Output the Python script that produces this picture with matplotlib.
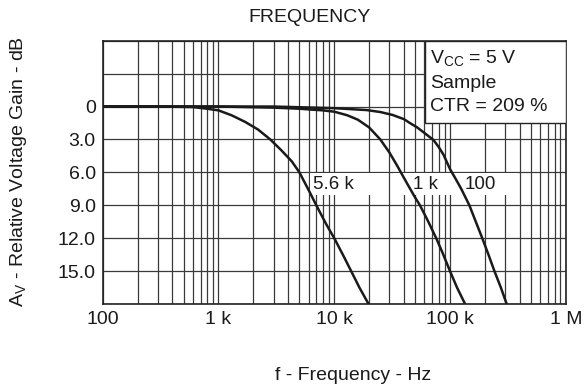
import matplotlib
matplotlib.use("Agg")
import matplotlib.pyplot as plt
from matplotlib.patches import Rectangle
from matplotlib.ticker import FixedLocator, NullFormatter, LogLocator

plt.rcParams['font.family'] = ['Liberation Sans', 'DejaVu Sans']
plt.rcParams['mathtext.default'] = 'regular'

# ---- data ----
f_56k = [100, 300, 600, 800, 1000, 1300, 1700, 2200, 2800, 3500, 4300, 5000, 6000,
         7000, 8500, 10000, 12000, 14000, 16500, 19800]
db_56k = [0, 0, 0.05, 0.2, 0.35, 0.8, 1.4, 2.1, 3.0, 4.0, 5.0, 6.0, 7.6,
          9.0, 10.7, 12.0, 13.6, 15.0, 16.5, 18.0]

f_1k = [100, 1000, 3000, 5000, 8000, 10000, 13000, 16000, 20000, 25000, 30000, 35000,
        42000, 50000, 55000, 65000, 76000, 86000, 100000, 115000, 135000]
db_1k = [0, 0, 0.1, 0.2, 0.35, 0.47, 0.8, 1.2, 1.9, 3.0, 4.2, 5.4,
         6.9, 8.3, 9.0, 10.5, 12.0, 13.3, 15.0, 16.5, 18.0]

f_100 = [100, 3000, 10000, 19000, 25000, 32000, 40000, 45000, 52000, 60000, 72000, 80000,
         88000, 100000, 112000, 125000, 147000, 170000, 190000, 215000, 242000, 275000, 309000]
db_100 = [0, 0, 0.15, 0.32, 0.5, 0.77, 1.15, 1.5, 1.9, 2.4, 3.05, 3.7,
          4.4, 5.7, 6.6, 7.5, 9.0, 10.7, 12.0, 13.5, 15.0, 16.5, 18.0]

curve_labels = ["5.6 k", "1 k", "100"]
x_ticks = [100, 1000, 10000, 100000, 1000000]
x_ticklabels = ["100", "1 k", "10 k", "100 k", "1 M"]
y_ticks = [0, 3, 6, 9, 12, 15]
y_ticklabels = ["0", "3.0", "6.0", "9.0", "12.0", "15.0"]
legend_lines = ["$V_{CC}$ = 5 V", "Sample", "CTR = 209 %"]

# ---- figure ----
fig = plt.figure(figsize=(5.87, 3.90), dpi=100)
ax = fig.add_axes([0.175, 0.2205, 0.7888, 0.6751])
ax.set_xscale('log')
ax.set_xlim(100, 1e6)
ax.set_ylim(18, -6)

ax.xaxis.set_major_locator(FixedLocator(x_ticks))
ax.xaxis.set_minor_locator(LogLocator(base=10, subs=range(2, 10), numticks=20))
ax.xaxis.set_minor_formatter(NullFormatter())
ax.set_xticks(x_ticks)
ax.set_xticklabels(x_ticklabels)
ax.set_yticks([-6, -3, 0, 3, 6, 9, 12, 15, 18])
ax.set_yticklabels(["", ""] + y_ticklabels + [""])

ax.tick_params(which='both', length=0, labelsize=14, colors='#1a1a1a', pad=5)
ax.set_axisbelow(True)
ax.grid(which='major', axis='both', color='#3a3a3a', lw=0.9)
ax.grid(which='minor', axis='x', color='#3a3a3a', lw=0.9)
for s in ax.spines.values():
    s.set_linewidth(1.2)
    s.set_color('#222222')

# white label band
for x0, x1 in [(6180, 29200), (32200, 387000)]:
    ax.add_patch(Rectangle((x0, 6.1), x1 - x0, 1.97, facecolor='white',
                           edgecolor='none', zorder=1))

lw = 1.8
ax.plot(f_56k, db_56k, color='#1a1a1a', lw=lw, zorder=3, solid_capstyle='butt')
ax.plot(f_1k, db_1k, color='#1a1a1a', lw=lw, zorder=3, solid_capstyle='butt')
ax.plot(f_100, db_100, color='#1a1a1a', lw=lw, zorder=3, solid_capstyle='butt')

for lab, xpos in zip(curve_labels, [6520, 48200, 135000]):
    ax.text(xpos, 7.15, lab, fontsize=13.5, va='center', ha='left', color='#1a1a1a', zorder=4)

# condition box
ax.add_patch(Rectangle((0.6957, 0.686), 1 - 0.6957, 1 - 0.686, transform=ax.transAxes,
                       facecolor='white', edgecolor='#222222', lw=1.0, zorder=5))
for line, yy in zip(legend_lines, [0.933, 0.838, 0.749]):
    ax.text(0.707, yy, line, transform=ax.transAxes, fontsize=14, va='center', ha='left',
            color='#1a1a1a', zorder=6)

fig.text(310 / 587, 1 - 18 / 390, "FREQUENCY", fontsize=14, ha='center', va='center', color='#1a1a1a')
fig.text(353 / 587, 1 - 375 / 390, "f - Frequency - Hz", fontsize=14, ha='center', va='center', color='#1a1a1a')
fig.text(19 / 587, 1 - 172 / 390, "$A_V$ - Relative Voltage Gain - dB", fontsize=14, rotation=90,
         ha='center', va='center', color='#1a1a1a')

fig.savefig("out.png", dpi=100, facecolor='white')
